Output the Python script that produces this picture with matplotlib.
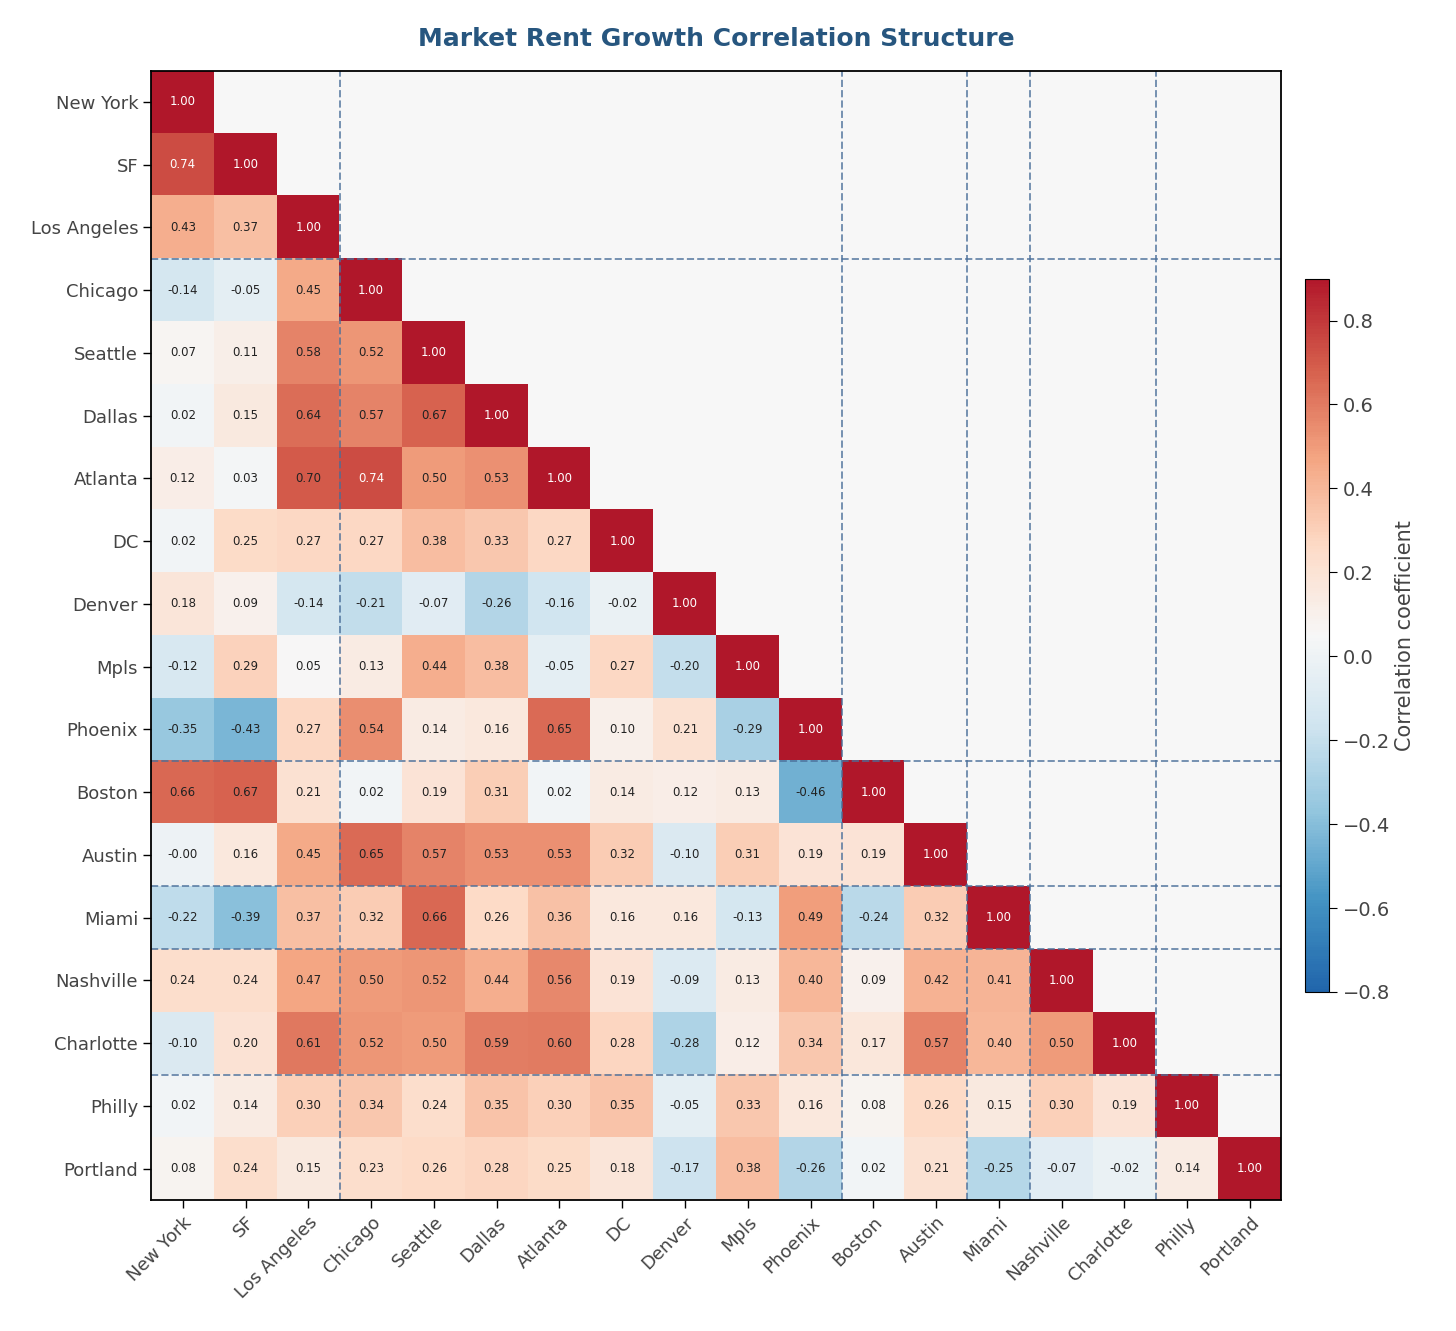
import matplotlib
matplotlib.use("Agg")
import matplotlib.pyplot as plt
import numpy as np
from matplotlib.colors import ListedColormap

markets = ["New York", "SF", "Los Angeles", "Chicago", "Seattle", "Dallas", "Atlanta", "DC",
           "Denver", "Mpls", "Phoenix", "Boston", "Austin", "Miami", "Nashville", "Charlotte",
           "Philly", "Portland"]

lower_rows = [
    [1.00],
    [0.74, 1.00],
    [0.43, 0.37, 1.00],
    [-0.14, -0.05, 0.45, 1.00],
    [0.07, 0.11, 0.58, 0.52, 1.00],
    [0.02, 0.15, 0.64, 0.57, 0.67, 1.00],
    [0.12, 0.03, 0.70, 0.74, 0.50, 0.53, 1.00],
    [0.02, 0.25, 0.27, 0.27, 0.38, 0.33, 0.27, 1.00],
    [0.18, 0.09, -0.14, -0.21, -0.07, -0.26, -0.16, -0.02, 1.00],
    [-0.12, 0.29, 0.05, 0.13, 0.44, 0.38, -0.05, 0.27, -0.20, 1.00],
    [-0.35, -0.43, 0.27, 0.54, 0.14, 0.16, 0.65, 0.10, 0.21, -0.29, 1.00],
    [0.66, 0.67, 0.21, 0.02, 0.19, 0.31, 0.02, 0.14, 0.12, 0.13, -0.46, 1.00],
    [-0.00, 0.16, 0.45, 0.65, 0.57, 0.53, 0.53, 0.32, -0.10, 0.31, 0.19, 0.19, 1.00],
    [-0.22, -0.39, 0.37, 0.32, 0.66, 0.26, 0.36, 0.16, 0.16, -0.13, 0.49, -0.24, 0.32, 1.00],
    [0.24, 0.24, 0.47, 0.50, 0.52, 0.44, 0.56, 0.19, -0.09, 0.13, 0.40, 0.09, 0.42, 0.41, 1.00],
    [-0.10, 0.20, 0.61, 0.52, 0.50, 0.59, 0.60, 0.28, -0.28, 0.12, 0.34, 0.17, 0.57, 0.40, 0.50, 1.00],
    [0.02, 0.14, 0.30, 0.34, 0.24, 0.35, 0.30, 0.35, -0.05, 0.33, 0.16, 0.08, 0.26, 0.15, 0.30, 0.19, 1.00],
    [0.08, 0.24, 0.15, 0.23, 0.26, 0.28, 0.25, 0.18, -0.17, 0.38, -0.26, 0.02, 0.21, -0.25, -0.07, -0.02, 0.14, 1.00],
]
group_breaks = [2.5, 10.5, 12.5, 13.5, 15.5]

n = len(markets)
mat = np.full((n, n), np.nan)
for i, row in enumerate(lower_rows):
    mat[i, :len(row)] = row

fig = plt.figure(figsize=(14.56, 13.31), dpi=100)
ax = fig.add_axes([0.104, 0.0984, 0.776, 0.8486])
cax = fig.add_axes([0.896, 0.2547, 0.017, 0.536])

ax.set_facecolor("#f7f7f7")
base = plt.get_cmap("RdBu_r")
cmap = ListedColormap(base(np.linspace(0.1, 0.9, 256)))
im = ax.imshow(np.ma.masked_invalid(mat), cmap=cmap, vmin=-0.8, vmax=0.9, aspect="auto")
for i in range(n):
    for j in range(i + 1):
        v = mat[i, j]
        ax.text(j, i, f"{v:.2f}", ha="center", va="center", fontsize=8.5,
                color="white" if abs(v) > 0.7 else "#222222")

for b in group_breaks:
    ax.axvline(b, color="#4a6f9a", ls="--", lw=1.4, alpha=0.75)
    ax.axhline(b, color="#4a6f9a", ls="--", lw=1.4, alpha=0.75)

ax.set_xticks(range(n))
ax.set_yticks(range(n))
ax.set_xticklabels(markets, rotation=45, ha="right", rotation_mode="anchor", fontsize=13, color="#444444")
ax.set_yticklabels(markets, fontsize=13, color="#444444")
ax.tick_params(length=6, width=1)
for s in ax.spines.values():
    s.set_linewidth(1.3)
ax.set_title("Market Rent Growth Correlation Structure", fontsize=18, fontweight="bold",
             color="#27567f", pad=18)

cb = fig.colorbar(im, cax=cax)
cb.set_label("Correlation coefficient", fontsize=15, color="#444444")
cb.ax.tick_params(labelsize=14, length=6, labelcolor="#444444")

fig.savefig("out.png", dpi=100)
